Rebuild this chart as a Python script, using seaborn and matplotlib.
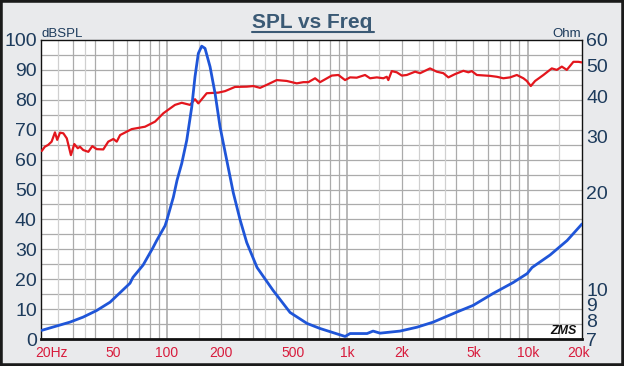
import numpy as np
import pandas as pd
import matplotlib
matplotlib.use('Agg')
import matplotlib.pyplot as plt
import matplotlib.ticker as mticker
import matplotlib.transforms as mtrans
from matplotlib.lines import Line2D
from matplotlib.patches import Rectangle
import seaborn as sns

# ── Data ─────────────────────────────────────────────────────────────────────
spl_freq = [20.2, 21, 21.9, 22.9, 23.9, 24.6, 25.5, 26.6, 27.8, 29.3, 30.6, 32, 32.9,
            34.3, 36.6, 38.5, 40.7, 44.3, 47.2, 50.4, 52.6, 54.9, 63.7, 75.5, 85.8,
            95.4, 110.7, 120.6, 134.1, 142.9, 149.1, 166, 192.5, 209.7, 238, 276.6,
            300.9, 328, 357.3, 405.9, 461.2, 524, 570, 607.5, 661.9, 705.4, 819.2,
            891.3, 970.7, 1035, 1127, 1253, 1336, 1456, 1583, 1653, 1687, 1762, 1878,
            2003, 2135, 2374, 2530, 2874, 3131, 3406, 3631, 3957, 4398, 4688, 4896,
            5220, 6184, 6741, 7331, 7985, 8700, 9463, 9883, 10400, 10990, 12220,
            13600, 14500, 15460, 16470, 17920, 19100, 20000]
spl_db = [62.9, 64.3, 64.9, 66.0, 69.1, 66.6, 69.0, 68.8, 67.1, 61.5, 65.2, 63.8, 64.3,
          63.2, 62.6, 64.5, 63.5, 63.4, 66.0, 66.9, 66.0, 68.2, 70.2, 71.0, 72.7,
          75.5, 78.3, 79.0, 78.3, 80.2, 78.8, 82.2, 82.4, 82.9, 84.3, 84.4,
          84.6, 84.0, 85.0, 86.6, 86.3, 85.5, 85.9, 85.9, 87.2, 85.9, 88.1,
          88.3, 86.6, 87.5, 87.4, 88.3, 87.2, 87.5, 87.2, 87.7, 86.6, 89.6, 89.2,
          88.1, 88.3, 89.4, 88.9, 90.5, 89.4, 88.9, 87.5, 88.6, 89.7, 89.2, 89.6,
          88.3, 88.0, 87.7, 87.2, 87.5, 88.3, 87.2, 86.3, 84.6, 86.3, 88.3,
          90.5, 90.0, 91.1, 90.0, 92.7, 92.7, 92.5]

imp_freq = [20.2, 28.9, 34.2, 40.7, 48.3, 62.3, 64.7, 73.6, 83.6, 87.6, 97.5, 99.6,
            108.4, 113.6, 120.6, 128.6, 137.1, 142.9, 149.1, 155.7, 162.4, 173.2, 184.6,
            196.8, 214.3, 233.1, 254, 276.6, 315.6, 387, 481, 597, 705, 971, 1035, 1286,
            1388, 1518, 1959, 2434, 2986, 4055, 4977, 6427, 8296, 9930, 10570, 13300,
            16530, 20000]
imp_ohm = [7.45, 7.90, 8.19, 8.59, 9.12, 10.45, 10.9, 11.9, 13.5, 14.2, 15.8, 16.4,
           19.4, 21.9, 24.7, 29.2, 37.1, 46.1, 54.5, 57.4, 56.5, 49.5, 40.9,
           32.1, 25.3, 20.0, 16.5, 14.0, 11.7, 9.93, 8.47, 7.83, 7.55, 7.13, 7.28, 7.28,
           7.41, 7.30, 7.41, 7.62, 7.90, 8.50, 8.91, 9.71, 10.5, 11.2, 11.7, 12.8,
           14.2, 16.0]

freq_ticks = [20, 50, 100, 200, 500, 1000, 2000, 5000, 10000, 20000]
freq_labels = ['20Hz', '50', '100', '200', '500', '1k', '2k', '5k', '10k', '20k']
db_ticks = list(range(0, 101, 10))
ohm_ticks = [7, 8, 9, 10, 20, 30, 40, 50, 60]
ohm_labels = ['7', '8', '9', '10', '20', '30', '40', '50', '60']

# ── Style ────────────────────────────────────────────────────────────────────
sns.set_theme(style='white')
plt.rcParams['font.family'] = ['Liberation Sans', 'DejaVu Sans']

NAVY = '#1d3b5c'
TITLE_C = '#3b5a75'
CRIMSON = '#d81b3c'
GRID = '#ababab'
GRID_LIGHT = '#d0d0d0'

W, H = 624, 366
fig = plt.figure(figsize=(W / 100, H / 100), dpi=100, facecolor='#e9eaec')
ax = fig.add_axes([41 / W, 1 - 339 / H, 541 / W, 299 / H])
ax.set_facecolor('white')

df_spl = pd.DataFrame({'freq': spl_freq, 'db': spl_db})
df_imp = pd.DataFrame({'freq': imp_freq, 'ohm': imp_ohm})

ax.set_xscale('log')
ax.set_xlim(20, 20000)
ax.set_ylim(0, 100)

# grid: every 5 dB, log lines incl. half steps
for v in range(5, 100, 5):
    ax.axhline(v, color=GRID, lw=0.9, zorder=0)
for dec in [10, 100, 1000, 10000]:
    for m in [1, 1.5, 2, 2.5, 3, 3.5, 4, 5, 6, 7, 8, 9]:
        f = dec * m
        if 20 < f < 20000:
            light = m in (1.5, 2.5, 3.5)
            ax.axvline(f, color=GRID_LIGHT if light else GRID,
                       lw=1.2 if m == 1 else 0.9, zorder=0)

sns.lineplot(data=df_spl, x='freq', y='db', ax=ax, color='#e3161d', lw=1.6,
             estimator=None, zorder=3)

ax.set_xticks(freq_ticks)
ax.set_xticklabels(freq_labels)
ax.xaxis.set_minor_locator(mticker.NullLocator())
ax.set_yticks(db_ticks)
ax.set_xlabel('')
ax.set_ylabel('')
ax.tick_params(axis='x', labelsize=10, labelcolor=CRIMSON, length=0, pad=5)
ax.tick_params(axis='y', labelsize=14, labelcolor=NAVY, length=0, pad=3)
first = ax.get_xticklabels()[0]
first.set_horizontalalignment('left')
first.set_transform(first.get_transform() + mtrans.ScaledTranslation(-6 / 100, 0, fig.dpi_scale_trans))
last = ax.get_xticklabels()[-1]
last.set_transform(last.get_transform() + mtrans.ScaledTranslation(-3 / 100, 0, fig.dpi_scale_trans))

for s in ax.spines.values():
    s.set_color('#111111')
    s.set_linewidth(1.0)
ax.spines['bottom'].set_linewidth(2.0)

# impedance on log right axis
ax2 = ax.twinx()
sns.lineplot(data=df_imp, x='freq', y='ohm', ax=ax2, color='#1f55d8', lw=2.0,
             estimator=None)
ax2.set_yscale('log')
ax2.set_ylim(7, 60)
ax2.set_xlim(20, 20000)
ax2.yaxis.set_major_locator(mticker.FixedLocator(ohm_ticks))
ax2.yaxis.set_major_formatter(mticker.FixedFormatter(ohm_labels))
ax2.yaxis.set_minor_locator(mticker.NullLocator())
ax2.set_ylabel('')
ax2.set_xlabel('')
ax2.tick_params(axis='y', labelsize=14, labelcolor=NAVY, length=0, pad=3)
for s in ax2.spines.values():
    s.set_visible(False)

# ── Text ─────────────────────────────────────────────────────────────────────
fig.text(0.5, 1 - 28 / H, 'SPL vs Freq', ha='center', va='baseline',
         fontsize=15, fontweight='bold', color=TITLE_C)
fig.add_artist(Line2D([252 / W, 374 / W], [1 - 32 / H, 1 - 32 / H],
                      transform=fig.transFigure, color=TITLE_C, lw=1.5))
fig.text(41 / W, 1 - 37 / H, 'dBSPL', ha='left', va='baseline', fontsize=9.5, color=NAVY)
fig.text(581 / W, 1 - 37 / H, 'Ohm', ha='right', va='baseline', fontsize=9.5, color=NAVY)
fig.text(563 / W, 1 - 334 / H, 'ZMS', ha='center', va='baseline', fontsize=9,
         fontstyle='italic', fontweight='bold', color='#111111')

fig.add_artist(Rectangle((0, 0), 1, 1, transform=fig.transFigure, fill=False,
                         edgecolor='#1a1a1a', lw=4))

fig.savefig('out.png', dpi=100, facecolor=fig.get_facecolor())
